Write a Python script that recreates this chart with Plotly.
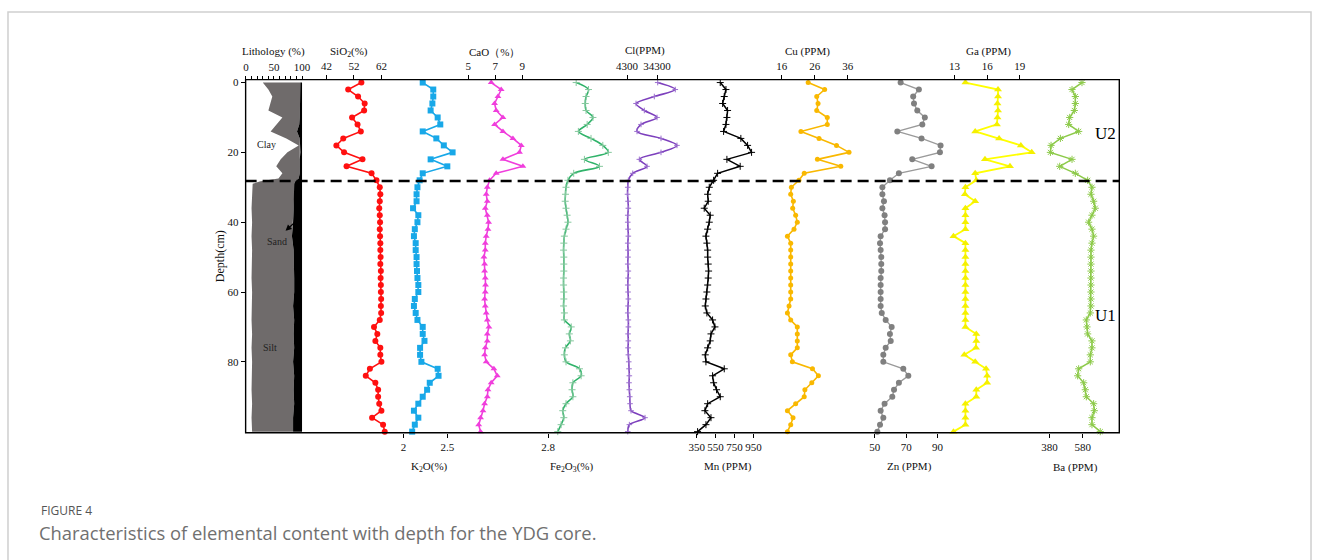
import plotly.graph_objects as go

W, H = 1319, 560

# ---------------- data (depth in cm, sampled every 2 cm) ----------------
depth = list(range(0, 101, 2))

sio2 = [54.7, 49.9, 53.5, 55.9, 55.7, 51.3, 53.3, 54.5, 48.1, 45.6, 48.4, 55.1, 49.3, 58.4, 60.2,
        61.4, 61.6, 61.4, 61.2, 61.4, 61.5, 61.4, 61.5, 61.6, 61.6, 61.7, 61.6, 61.8, 61.7, 61.8,
        61.8, 61.9, 61.8, 61.9, 61.4, 59.3, 60.5, 59.8, 61.6, 61.6, 62.0, 57.8, 56.3, 59.8, 60.8,
        60.8, 61.2, 62.0, 58.6, 62.6, 63.2]

k2o = [2.22, 2.34, 2.34, 2.33, 2.31, 2.39, 2.42, 2.22, 2.375, 2.46, 2.56, 2.31, 2.50, 2.22, 2.185,
       2.16, 2.15, 2.15, 2.11, 2.17, 2.16, 2.13, 2.12, 2.14, 2.14, 2.15, 2.15, 2.155, 2.16, 2.17,
       2.17, 2.13, 2.12, 2.14, 2.16, 2.22, 2.22, 2.24, 2.19, 2.19, 2.205, 2.39, 2.40, 2.30, 2.27,
       2.22, 2.17, 2.12, 2.17, 2.13, 2.10]

cao = [6.70, 7.44, 7.20, 6.95, 7.07, 7.57, 6.95, 7.57, 8.31, 8.93, 8.80, 7.57, 9.05, 7.07, 6.58,
       6.41, 6.33, 6.41, 6.26, 6.41, 6.51, 6.46, 6.33, 6.26, 6.26, 6.16, 6.21, 6.21, 6.26, 6.28,
       6.26, 6.21, 6.26, 6.33, 6.41, 6.53, 6.41, 6.41, 6.26, 6.21, 6.33, 6.90, 7.15, 6.70, 6.46,
       6.41, 6.21, 6.09, 5.91, 5.77, 5.91]

fe2o3 = [3.82, 4.27, 4.18, 4.15, 4.18, 4.43, 4.22, 3.90, 4.36, 4.79, 4.99, 4.12, 4.67, 3.73, 3.52,
         3.45, 3.43, 3.42, 3.45, 3.49, 3.52, 3.45, 3.39, 3.37, 3.36, 3.37, 3.37, 3.37, 3.36, 3.36,
         3.37, 3.37, 3.36, 3.39, 3.39, 3.64, 3.57, 3.61, 3.43, 3.39, 3.45, 3.94, 4.00, 3.70, 3.67,
         3.70, 3.45, 3.33, 3.37, 3.27, 3.15]

cl = [35000, 52600, 31600, 13300, 21600, 34300, 18300, 14300, 38300, 54300, 38300, 16600, 24300,
      10000, 5600, 5000, 4800, 5300, 5600, 5000, 5000, 5300, 5600, 5000, 5300, 5300, 5000, 5600,
      5300, 5000, 5300, 5600, 5300, 5000, 5600, 5600, 5300, 5600, 5300, 5600, 6000, 6300, 6600,
      6300, 6600, 7000, 7300, 8300, 22300, 6600, 5000]

mn = [599, 659, 641, 624, 676, 669, 659, 634, 816, 887, 929, 669, 809, 571, 529,
      483, 466, 472, 430, 493, 483, 466, 448, 458, 466, 466, 472, 476, 472, 466,
      458, 448, 441, 458, 518, 543, 501, 493, 466, 441, 448, 641, 518, 529, 560,
      599, 466, 437, 501, 448, 360]

cu = [24.0, 29.0, 26.6, 27.0, 26.6, 29.8, 29.8, 21.8, 27.3, 32.6, 36.4, 26.8, 33.9, 22.8, 21.2,
      18.9, 18.7, 19.5, 19.3, 20.2, 20.7, 19.7, 17.7, 18.7, 18.7, 18.7, 18.7, 18.7, 18.7, 18.7,
      18.7, 18.7, 18.2, 17.7, 18.7, 20.7, 20.7, 20.7, 20.7, 18.7, 19.2, 25.3, 27.1, 25.1, 23.0,
      22.8, 20.2, 17.7, 19.4, 18.7, 17.7]

zn = [66.5, 78.1, 74.5, 75.0, 77.1, 81.9, 80.3, 64.4, 79.8, 91.9, 91.5, 73.9, 86.2, 65.4, 59.7,
      54.9, 54.9, 55.9, 54.9, 56.3, 56.6, 56.6, 53.8, 53.4, 53.8, 54.2, 54.2, 54.2, 53.8, 53.8,
      53.8, 53.8, 53.8, 54.5, 57.0, 60.8, 59.7, 60.2, 57.0, 55.5, 55.5, 68.2, 71.4, 65.4, 62.3,
      61.2, 56.3, 53.8, 55.5, 53.4, 51.7]

ga = [14.0, 17.0, 17.0, 16.95, 17.0, 16.95, 16.9, 14.9, 17.1, 19.1, 20.1, 15.8, 18.1, 14.9, 15.0,
      14.0, 13.95, 14.9, 14.0, 14.0, 14.0, 14.0, 12.9, 14.0, 14.0, 14.0, 14.0, 14.0, 14.0, 14.0,
      14.0, 14.0, 14.0, 14.0, 14.0, 14.0, 15.0, 15.0, 14.97, 13.9, 14.9, 15.9, 16.0, 16.0, 15.0,
      15.0, 14.0, 14.0, 14.0, 14.0, 12.9]

ba = [576, 516, 536, 536, 530, 502, 496, 556, 446, 390, 386, 516, 442, 536, 610,
      636, 630, 646, 656, 636, 616, 636, 646, 636, 630, 630, 630, 630, 630, 630,
      630, 630, 630, 626, 602, 606, 610, 636, 636, 626, 626, 556, 550, 586, 596,
      602, 646, 650, 636, 636, 686]

# lithology: cumulative clay and clay+silt percentages (remainder is sand)
litho_depth = [0, 2, 4, 6, 8, 10, 12, 14, 16, 18, 20, 22, 24, 26, 27.5, 28.3, 29, 32, 36, 40,
               44, 48, 52, 56, 60, 64, 68, 72, 76, 80, 84, 88, 92, 96, 100]
clay = [30, 40, 47, 44, 40, 65, 55, 44, 72, 94, 74, 62, 54, 65, 58, 26, 12, 11, 10, 11,
        10, 11, 10, 10, 11, 10, 10, 11, 10, 11, 10, 10, 11, 10, 11]
clay_silt = [97, 97, 96, 97, 96, 96, 95, 91, 96, 97, 97, 96, 96, 96, 94, 88, 86, 86, 85, 84,
             82, 85, 86, 86, 86, 84, 86, 85, 86, 84, 86, 85, 86, 84, 84]

unit_boundary = 28.2

# ---------------- geometry ----------------
L, R, T, B = 244, 1119, 77, 432          # plot frame in page pixels
Y_RANGE = [100.3, -0.85]
SERIF = "Liberation Serif"


def xp(p):
    return p / W


def yp(p):
    return 1 - p / H


# axis calibration: side, reference value, its pixel, pixels per unit, ticks
axes_cfg = {
    "x":   ("top",    0,    244.3, 0.562,  list(range(0, 101, 10)),
            ["0", "", "", "", "", "50", "", "", "", "", "100"]),
    "x2":  ("top",    42,   325.0, 2.75,   [42, 52, 62], ["42", "52", "62"]),
    "x3":  ("bottom", 2,    402.0, 88.0,   [2, 2.5], ["2", "2.5"]),
    "x4":  ("top",    5,    467.0, 13.5,   [5, 7, 9], ["5", "7", "9"]),
    "x5":  ("bottom", 2.8,  547.0, 27.5,   [2.8], ["2.8"]),
    "x6":  ("top",    4300, 626.0, 0.001,  [4300, 34300], ["4300", "34300"]),
    "x7":  ("bottom", 350,  695.7, 0.095,  [350, 550, 750, 950], ["350", "550", "750", "950"]),
    "x8":  ("top",    16,   781.0, 3.3,    [16, 26, 36], ["16", "26", "36"]),
    "x9":  ("bottom", 50,   874.0, 1.575,  [50, 70, 90], ["50", "70", "90"]),
    "x10": ("top",    13,   954.0, 10.883, [13, 16, 19], ["13", "16", "19"]),
    "x11": ("bottom", 380,  1049.0, 0.1665, [380, 580], ["380", "580"]),
}

fig = go.Figure()

# lithology column
n = len(litho_depth)
fig.add_trace(go.Scatter(
    x=clay + clay_silt[::-1], y=litho_depth + litho_depth[::-1],
    xaxis="x", yaxis="y", mode="lines", fill="toself",
    fillcolor="#6f6b6b", line=dict(width=0), hoverinfo="skip"))
fig.add_trace(go.Scatter(
    x=clay_silt + [100] * n, y=litho_depth + litho_depth[::-1],
    xaxis="x", yaxis="y", mode="lines", fill="toself",
    fillcolor="#000000", line=dict(width=0), hoverinfo="skip"))


def add_series(vals, axis, color, symbol, size, width=1.6, shape="linear",
               mcolor=None, mline=0):
    fig.add_trace(go.Scatter(
        x=vals, y=depth, xaxis=axis, yaxis="y", mode="lines+markers",
        line=dict(color=color, width=width, shape=shape, smoothing=0.9),
        marker=dict(symbol=symbol, size=size, color=mcolor or color,
                    line=dict(color=mcolor or color, width=mline)),
        cliponaxis=False, hoverinfo="skip"))


add_series(sio2, "x2", "#ff1010", "circle", 6)
add_series(k2o, "x3", "#18a8e8", "square", 6)
add_series(cao, "x4", "#f03edc", "triangle-up", 6)
add_series(fe2o3, "x5", "#30b36a", "cross-thin-open", 5, shape="spline",
           mcolor="#86c89e", mline=1)
add_series(cl, "x6", "#7d40bd", "cross-thin-open", 4, shape="spline",
           mcolor="#9c70cf", mline=1)
add_series(mn, "x7", "#000000", "cross-thin-open", 5, width=1.5, mline=1)
add_series(cu, "x8", "#f9b800", "circle", 5)
add_series(zn, "x9", "#9a9a9a", "circle", 6, width=1.4, mcolor="#808080")
add_series(ga, "x10", "#ffff00", "triangle-up", 7, width=1.8, mcolor="#f5f000")
add_series(ba, "x11", "#8dca4a", "asterisk-open", 6, width=1.5, mcolor="#8dca4a", mline=1)

tickfont = dict(family=SERIF, size=11, color="#111")
for key, (side, v0, p0, s, tv, tt) in axes_cfg.items():
    rng = [v0 + (L - p0) / s, v0 + (R - p0) / s]
    ax = dict(range=rng, side=side, anchor="y", tickvals=tv, ticktext=tt, tickangle=0,
              ticks="outside", ticklen=4, tickwidth=1, tickcolor="#000",
              showline=False, showgrid=False, zeroline=False, tickfont=tickfont,
              fixedrange=True)
    if key == "x":
        ax["domain"] = [xp(L), xp(R)]
        ax["ticklen"] = 3
    else:
        ax["overlaying"] = "x"
    name = "xaxis" if key == "x" else "xaxis" + key[1:]
    fig.layout[name] = ax

fig.layout.yaxis = dict(
    domain=[yp(B), yp(T)], range=Y_RANGE, tickvals=[0, 20, 40, 60, 80],
    ticks="outside", ticklen=4, tickcolor="#000", showgrid=False, zeroline=False,
    showline=False, tickfont=tickfont, fixedrange=True,
    title=dict(text="Depth(cm)", font=dict(family=SERIF, size=12, color="#111"),
               standoff=0))

shapes = [
    # plot frame
    dict(type="rect", xref="paper", yref="paper", x0=xp(L), x1=xp(R), y0=yp(B), y1=yp(T),
         line=dict(color="#000", width=1.4)),
    # unit boundary
    dict(type="line", xref="paper", yref="y", x0=xp(L), x1=xp(R),
         y0=unit_boundary, y1=unit_boundary,
         line=dict(color="#000", width=2.5, dash="11px,6px")),
    # page border
    dict(type="path", xref="paper", yref="paper",
         path=f"M {xp(6)},{yp(570)} L {xp(6)},{yp(9)} L {xp(1311)},{yp(9)} L {xp(1311)},{yp(570)}",
         line=dict(color="#cfcfcf", width=1.5)),
]
fig.layout.shapes = shapes

annotations = []


def label(text, x, y, size=11, family=SERIF, color="#111", xanchor="center"):
    annotations.append(dict(text=text, x=xp(x), y=yp(y), xref="paper", yref="paper",
                            showarrow=False, xanchor=xanchor, yanchor="middle",
                            font=dict(family=family, size=size, color=color)))


label("Lithology (%)", 272, 49)
label("SiO<sub>2</sub>(%)", 348, 49)
label("CaO（%）", 493, 49)
label("Cl(PPM)", 644, 48)
label("Cu (PPM)", 807, 49)
label("Ga (PPM)", 988, 49)
label("K<sub>2</sub>O(%)", 428, 466)
label("Fe<sub>2</sub>O<sub>3</sub>(%)", 570, 466)
label("Mn (PPM)", 727, 466)
label("Zn (PPM)", 909, 466)
label("Ba (PPM)", 1075, 467)
label("Clay", 265, 142, size=10, color="#222")
label("Sand", 275, 240, size=10, color="#222")
label("Silt", 268, 346, size=10, color="#222")
label("U2", 1105, 131, size=17, color="#000")
label("U1", 1105, 314, size=17, color="#000")
label("FIGURE 4", 37, 510, size=12, family="Open Sans", color="#555", xanchor="left")
label("Characteristics of elemental content with depth for the YDG core.", 35, 532,
      size=18.4, family="Open Sans", color="#707070", xanchor="left")

annotations.append(dict(x=xp(284), y=yp(229), xref="paper", yref="paper", text="",
                        showarrow=True, ax=12, ay=-11, arrowhead=2, arrowsize=1,
                        arrowwidth=1.2, arrowcolor="#000"))
fig.layout.annotations = annotations

fig.update_layout(width=W, height=H, margin=dict(l=0, r=0, t=0, b=0),
                  paper_bgcolor="white", plot_bgcolor="white", showlegend=False)

fig.write_html("out.html")
